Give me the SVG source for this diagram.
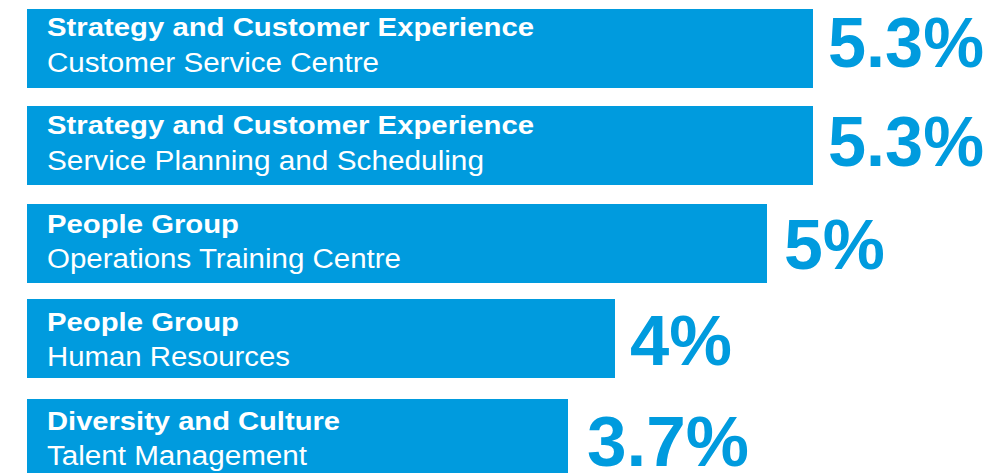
<svg xmlns="http://www.w3.org/2000/svg" width="1003" height="473" viewBox="0 0 1003 473">
<style>
.bar{fill:#009bde}
.t1{font-family:"Liberation Sans",Arial,sans-serif;font-weight:bold;font-size:26.5px;fill:#fff}
.t2{font-family:"Liberation Sans",Arial,sans-serif;font-size:27px;fill:#fff}
.pct{font-family:"Liberation Sans",Arial,sans-serif;font-weight:bold;font-size:70px;fill:#009bde}
</style>
<rect width="1003" height="473" fill="#fff"/>
<g id="bar1">
<rect class="bar" x="27" y="9" width="786" height="79"/>
<text class="t1" x="47" y="36" textLength="487" lengthAdjust="spacingAndGlyphs">Strategy and Customer Experience</text>
<text class="t2" x="47" y="72" textLength="332" lengthAdjust="spacingAndGlyphs">Customer Service Centre</text>
<text class="pct" x="828" y="67" textLength="156" lengthAdjust="spacingAndGlyphs">5.3%</text>
</g>
<g id="bar2">
<rect class="bar" x="27" y="106" width="786" height="79"/>
<text class="t1" x="47" y="134" textLength="487" lengthAdjust="spacingAndGlyphs">Strategy and Customer Experience</text>
<text class="t2" x="47" y="170" textLength="437" lengthAdjust="spacingAndGlyphs">Service Planning and Scheduling</text>
<text class="pct" x="828" y="166" textLength="156" lengthAdjust="spacingAndGlyphs">5.3%</text>
</g>
<g id="bar3">
<rect class="bar" x="27" y="204" width="740" height="79"/>
<text class="t1" x="47" y="233" textLength="192" lengthAdjust="spacingAndGlyphs">People Group</text>
<text class="t2" x="47" y="268" textLength="354" lengthAdjust="spacingAndGlyphs">Operations Training Centre</text>
<text class="pct" x="784" y="269" textLength="101" lengthAdjust="spacingAndGlyphs">5%</text>
</g>
<g id="bar4">
<rect class="bar" x="27" y="299" width="588" height="79"/>
<text class="t1" x="47" y="331" textLength="192" lengthAdjust="spacingAndGlyphs">People Group</text>
<text class="t2" x="47" y="366" textLength="243" lengthAdjust="spacingAndGlyphs">Human Resources</text>
<text class="pct" x="630" y="365" textLength="102" lengthAdjust="spacingAndGlyphs">4%</text>
</g>
<g id="bar5">
<rect class="bar" x="27" y="399" width="541" height="79"/>
<text class="t1" x="47" y="430" textLength="293" lengthAdjust="spacingAndGlyphs">Diversity and Culture</text>
<text class="t2" x="47" y="465" textLength="260" lengthAdjust="spacingAndGlyphs">Talent Management</text>
<text class="pct" x="587" y="466" textLength="162" lengthAdjust="spacingAndGlyphs">3.7%</text>
</g>
</svg>
